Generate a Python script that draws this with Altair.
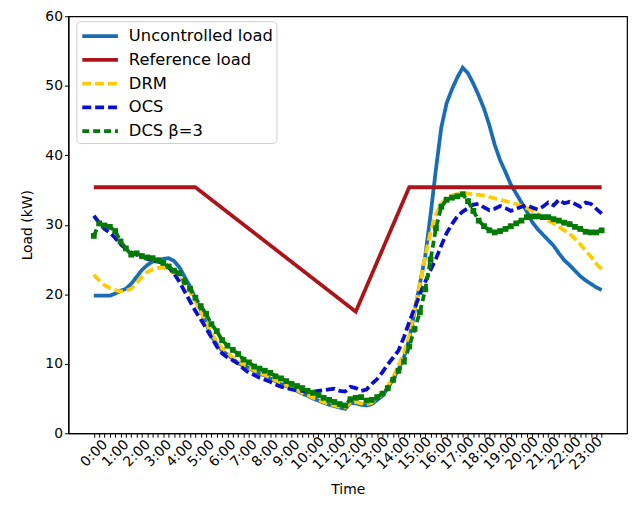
import altair as alt
import pandas as pd

# quarter-hour index 0..95 (0:00 .. 23:45)
steps = list(range(96))

uncontrolled = [19.8, 19.8, 19.8, 19.8, 20.1, 20.5, 20.8, 21.5, 22.5, 23.5, 24.2, 24.7, 24.9, 25.1, 25.2, 24.8,
                23.9, 22.5, 21.1, 19.4, 17.8, 15.8, 14.0, 12.8, 11.9, 11.3, 10.7, 10.1, 9.7, 9.4, 9.0, 8.6,
                8.3, 7.9, 7.5, 7.1, 6.8, 6.4, 6.1, 5.7, 5.4, 5.0, 4.7, 4.4, 4.1, 3.9, 3.7, 3.5,
                4.4, 4.3, 4.1, 4.0, 4.2, 4.8, 5.4, 6.5, 7.8, 9.2, 10.9, 13.5, 17.5, 21.5, 25.5, 31.5,
                38.0, 44.0, 47.5, 49.5, 51.2, 52.6, 51.8, 50.3, 48.6, 46.7, 44.3, 41.5, 39.3, 37.6, 35.8, 34.5,
                33.2, 31.9, 30.4, 29.4, 28.6, 27.8, 27.0, 25.9, 24.9, 24.2, 23.4, 22.6, 22.0, 21.5, 21.0, 20.6]

drm = [22.8, 22.0, 21.3, 20.9, 20.6, 20.4, 20.5, 20.8, 21.6, 22.5, 23.2, 23.6, 23.8, 23.8, 23.5, 23.1,
       22.5, 21.5, 20.4, 19.0, 17.5, 15.9, 14.4, 13.2, 12.2, 11.5, 10.9, 10.3, 9.9, 9.5, 9.1, 8.7,
       8.4, 8.0, 7.6, 7.2, 6.9, 6.5, 6.2, 5.8, 5.5, 5.1, 4.8, 4.5, 4.2, 4.0, 3.8, 3.7,
       4.5, 4.5, 4.3, 4.2, 4.4, 5.0, 5.7, 6.8, 8.1, 9.7, 11.6, 14.0, 17.8, 21.5, 25.5, 29.0,
       31.5, 33.0, 33.9, 34.2, 34.4, 34.5, 34.5, 34.4, 34.3, 34.2, 34.0, 33.8, 33.6, 33.4, 33.2, 33.0,
       32.7, 32.4, 32.0, 31.6, 31.1, 30.6, 30.2, 29.7, 29.2, 28.7, 28.0, 27.2, 26.3, 25.4, 24.4, 23.6]

ocs = [31.3, 30.3, 29.4, 28.9, 28.1, 27.2, 26.5, 26.0, 25.7, 25.4, 25.1, 24.8, 24.7, 24.5, 23.9, 23.0,
       21.8, 20.4, 19.0, 17.6, 16.4, 15.1, 13.8, 12.5, 11.5, 10.9, 10.5, 10.0, 9.3, 8.7, 8.4, 8.0,
       7.7, 7.4, 7.0, 6.7, 6.5, 6.3, 6.2, 6.1, 6.0, 6.0, 6.1, 6.2, 6.3, 6.4, 6.1, 6.0,
       6.7, 6.5, 6.1, 6.3, 7.1, 7.8, 8.8, 9.9, 10.9, 11.9, 13.8, 16.0, 18.0, 20.0, 21.8, 23.5,
       25.1, 27.0, 28.8, 30.1, 31.2, 31.9, 32.4, 32.9, 33.0, 32.5, 32.1, 32.3, 32.7, 32.4, 32.0, 32.3,
       32.6, 32.8, 32.5, 32.2, 32.6, 33.2, 32.8, 33.6, 33.1, 33.3, 33.0, 32.6, 33.2, 33.0, 32.3, 31.6]

dcs = [28.4, 30.2, 29.9, 29.7, 29.1, 27.6, 26.6, 25.7, 25.9, 25.5, 25.3, 25.2, 24.9, 24.5, 24.0, 23.4,
       23.0, 21.8, 20.8, 19.5, 18.3, 17.2, 15.7, 14.7, 13.4, 12.6, 12.0, 11.4, 10.6, 10.2, 9.6, 9.3,
       9.0, 8.7, 8.2, 7.9, 7.5, 7.1, 6.8, 6.5, 6.1, 5.8, 5.5, 5.1, 4.8, 4.5, 4.2, 4.0,
       4.9, 5.1, 5.2, 4.7, 4.8, 5.2, 5.7, 6.5, 7.7, 9.0, 10.3, 12.5, 15.0, 17.4, 20.7, 25.0,
       29.5, 32.6, 33.6, 33.9, 34.1, 34.4, 33.4, 32.0, 30.6, 29.8, 29.2, 28.9, 29.1, 29.4, 29.8, 30.2,
       30.6, 31.1, 31.2, 31.2, 31.1, 31.1, 30.8, 30.6, 30.3, 30.1, 29.7, 29.4, 29.0, 28.9, 28.9, 29.2]

ref_steps = [0, 19, 49, 59, 95]
ref_vals = [35.4, 35.4, 17.5, 35.4, 35.4]

series_names = ["Uncontrolled load", "Reference load", "DRM", "OCS", "DCS β=3"]
series_colors = ["#1a6db5", "#ab1419", "#ffcc00", "#0a0fcf", "#047a04"]
series_dash = [[1, 0], [1, 0], [9, 4], [9, 4], [7, 4]]
series_width = [3.8, 3.8, 2.6, 2.6, 2.4]

frames = []
for name, vals in [("Uncontrolled load", uncontrolled), ("DRM", drm), ("OCS", ocs), ("DCS β=3", dcs)]:
    frames.append(pd.DataFrame({"t": steps, "load": vals, "series": name}))
frames.append(pd.DataFrame({"t": ref_steps, "load": ref_vals, "series": "Reference load"}))
df = pd.concat(frames, ignore_index=True)

FONT = "DejaVu Sans"

x_enc = alt.X("t:Q", title="Time",
              scale=alt.Scale(domain=[-4.75, 99.75], nice=False, zero=False),
              axis=alt.Axis(values=steps,
                            labelExpr="datum.value % 4 == 0 ? floor(datum.value / 4) + ':00' : ''",
                            labelAngle=-45, labelAlign="center", labelBaseline="middle",
                            labelPadding=16, labelOverlap=False, labelFlush=False,
                            tickSize=4, titlePadding=11))
y_enc = alt.Y("load:Q", title="Load (kW)",
              scale=alt.Scale(domain=[0, 60], nice=False),
              axis=alt.Axis(values=[0, 10, 20, 30, 40, 50, 60], tickSize=4, titlePadding=10))

legend = alt.Legend(title=None, orient="none", legendX=8, legendY=5,
                    fillColor="white", strokeColor="#cccccc", cornerRadius=4,
                    padding=3, labelFont=FONT, labelFontSize=16.5,
                    symbolType="M-1.8,0L1.8,0", symbolSize=400, symbolOffset=9,
                    rowPadding=3, labelOffset=17)

color_enc = alt.Color("series:N", scale=alt.Scale(domain=series_names, range=series_colors), legend=legend)
dash_enc = alt.StrokeDash("series:N", scale=alt.Scale(domain=series_names, range=series_dash), legend=legend)
width_enc = alt.StrokeWidth("series:N", scale=alt.Scale(domain=series_names, range=series_width), legend=legend)

base = alt.Chart(df)
layers = []
for name in series_names:
    layers.append(base.transform_filter(alt.datum.series == name).mark_line().encode(
        x=x_enc, y=y_enc, color=color_enc, strokeDash=dash_enc, strokeWidth=width_enc))

markers = base.transform_filter(alt.datum.series == "DCS β=3").mark_point(
    shape="square", filled=True, size=34, opacity=1, color="#047a04").encode(x=x_enc, y=y_enc)

chart = alt.layer(*layers, markers).properties(
    width=564, height=421,
    autosize=alt.AutoSizeParams(type="none"),
    padding={"left": 61, "top": 6, "right": 5, "bottom": 64},
).configure_view(stroke="black", strokeWidth=1.2).configure_axis(
    domainColor="black", tickColor="black", labelColor="black", titleColor="black",
    labelFont=FONT, titleFont=FONT, labelFontSize=14, titleFontSize=14,
    titleFontWeight="normal", grid=False, domainWidth=1.2,
)

chart.save("out.html", embed_options={"renderer": "svg", "actions": False})
